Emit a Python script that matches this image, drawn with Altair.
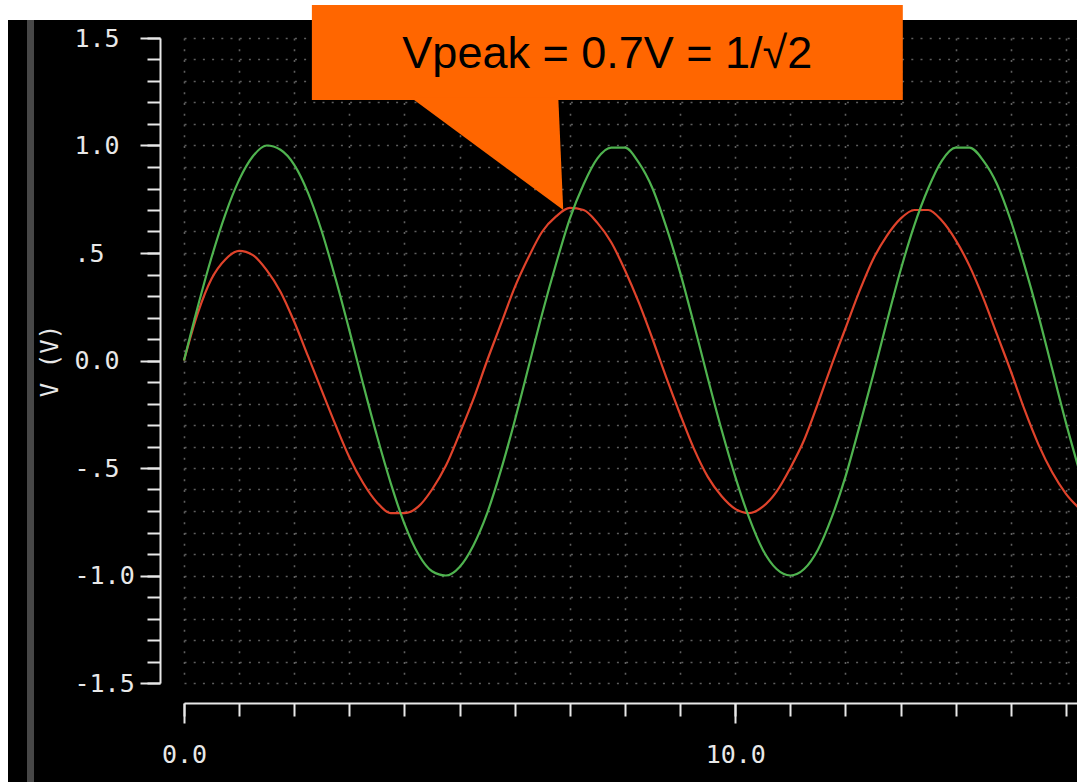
import altair as alt
import pandas as pd

# Sample times (s) and the two traces (V): source sine and RC high-pass output
t = [0.00, 0.25, 0.50, 0.75, 1.00, 1.25, 1.50, 1.75, 2.00, 2.25, 2.50, 2.75,
     3.00, 3.25, 3.50, 3.75, 4.00, 4.25, 4.50, 4.75, 5.00, 5.25, 5.50, 5.75,
     6.00, 6.25, 6.50, 6.75, 7.00, 7.25, 7.50, 7.75, 8.00, 8.25, 8.50, 8.75,
     9.00, 9.25, 9.50, 9.75, 10.00, 10.25, 10.50, 10.75, 11.00, 11.25, 11.50, 11.75,
     12.00, 12.25, 12.50, 12.75, 13.00, 13.25, 13.50, 13.75, 14.00, 14.25, 14.50, 14.75,
     15.00, 15.25, 15.50, 15.75, 16.00, 16.25]

v_in = [0.00, 0.25, 0.48, 0.68, 0.84, 0.95, 1.00, 0.98, 0.91, 0.78, 0.60, 0.38,
        0.14, -0.11, -0.35, -0.57, -0.76, -0.90, -0.98, -1.00, -0.96, -0.86, -0.71, -0.51,
        -0.28, -0.03, 0.22, 0.45, 0.66, 0.82, 0.94, 0.99, 0.99, 0.92, 0.80, 0.62,
        0.41, 0.17, -0.08, -0.32, -0.54, -0.73, -0.88, -0.97, -1.00, -0.97, -0.88, -0.73,
        -0.54, -0.31, -0.07, 0.18, 0.42, 0.63, 0.80, 0.93, 0.99, 0.99, 0.93, 0.82,
        0.65, 0.44, 0.21, -0.04, -0.29, -0.52]

v_out = [0.00, 0.22, 0.38, 0.47, 0.51, 0.49, 0.42, 0.32, 0.18, 0.02, -0.14, -0.30,
         -0.45, -0.57, -0.66, -0.71, -0.71, -0.68, -0.60, -0.49, -0.34, -0.18, 0.00, 0.17,
         0.34, 0.48, 0.60, 0.67, 0.71, 0.70, 0.64, 0.55, 0.42, 0.27, 0.10, -0.08,
         -0.25, -0.41, -0.54, -0.63, -0.69, -0.71, -0.68, -0.61, -0.50, -0.37, -0.20, -0.02,
         0.15, 0.32, 0.47, 0.58, 0.66, 0.70, 0.70, 0.65, 0.56, 0.44, 0.29, 0.12,
         -0.05, -0.23, -0.39, -0.52, -0.62, -0.69]

# Axis ticks and their labels
y_major = [-1.5, -1.0, -0.5, 0.0, 0.5, 1.0, 1.5]
y_major_labels = ["-1.5", "-1.0", "-.5", "0.0", "\u00a0.5", "1.0", "1.5"]
y_minor = [-1.5, -1.4, -1.3, -1.2, -1.1, -1.0, -0.9, -0.8, -0.7, -0.6, -0.5,
           -0.4, -0.3, -0.2, -0.1, 0.0, 0.1, 0.2, 0.3, 0.4, 0.5, 0.6, 0.7,
           0.8, 0.9, 1.0, 1.1, 1.2, 1.3, 1.4, 1.5]
x_major = [0, 10]
x_major_labels = ["0.0", "10.0"]
x_minor = [0, 1, 2, 3, 4, 5, 6, 7, 8, 9, 10, 11, 12, 13, 14, 15, 16]

# Callout pointing at the output peak
callout_text = "Vpeak = 0.7V = 1/\u221a2"
v_peak = 0.7
t_peak = 6.88
box_t = [2.32, 13.04]
box_v = [1.212, 1.653]
pointer_base_t = [4.12, 6.79]
text_v = 1.36

W, H = 893, 645
PAD_L, PAD_T, PAD_R, PAD_B = 184, 38, 0, 99

FG = "#e8e8e8"
GRID = "#5e5e5e"
MONO = "DejaVu Sans Mono"


def label_expr(values, labels):
    parts = [f"datum.value == {v} ? '{s}'" for v, s in zip(values, labels)]
    return " : ".join(parts) + " : ''"


xs = alt.Scale(domain=[0, 16.2], nice=False, zero=False)
ys = alt.Scale(domain=[-1.5, 1.5], nice=False, zero=False)

df = pd.DataFrame({"t": t, "vin": v_in, "vout": v_out})
blank = alt.Data(values=[{}])

# White margin strips and the grey bar of the scope window
top_strip = alt.Chart(blank).mark_rect(color="white").encode(
    x=alt.value(-PAD_L), x2=alt.value(W), y=alt.value(-PAD_T), y2=alt.value(-18))
left_strip = alt.Chart(blank).mark_rect(color="white").encode(
    x=alt.value(-PAD_L), x2=alt.value(-176), y=alt.value(-PAD_T), y2=alt.value(H + PAD_B))
side_bar = alt.Chart(blank).mark_rect(color="#474747").encode(
    x=alt.value(-157), x2=alt.value(-150), y=alt.value(-18), y2=alt.value(H + PAD_B))

# Dotted grid (invisible carrier line)
grid_layer = alt.Chart(df).mark_line(strokeOpacity=0).encode(
    x=alt.X("t:Q", scale=xs, axis=alt.Axis(
        orient="bottom", values=x_minor, grid=True, ticks=False, labels=False,
        domain=False, title=None, gridColor=GRID, gridWidth=1.6, gridDash=[2, 8.75])),
    y=alt.Y("vin:Q", scale=ys, axis=alt.Axis(
        orient="left", values=y_minor, grid=True, ticks=False, labels=False,
        domain=False, title=None, gridColor=GRID, gridWidth=1.6, gridDash=[2, 7.2])),
)

# Output trace with the labelled major axes
red_layer = alt.Chart(df).mark_line(color="#e0432b", strokeWidth=2.2, interpolate="monotone").encode(
    x=alt.X("t:Q", scale=xs, axis=alt.Axis(
        orient="bottom", values=x_major, offset=20, tickSize=20, grid=False,
        labelExpr=label_expr(x_major, x_major_labels), labelPadding=19,
        labelFlush=False, labelOverlap=False, title=None)),
    y=alt.Y("vout:Q", scale=ys, axis=alt.Axis(
        orient="left", values=y_major, offset=24, tickSize=20, grid=False,
        labelExpr=label_expr(y_major, y_major_labels), labelAlign="left",
        labelPadding=66, labelFlush=False, labelOverlap=False,
        title="V (V)", titlePadding=12)),
)

# Source trace with the minor tick axes
green_layer = alt.Chart(df).mark_line(color="#4fb34f", strokeWidth=2.2, interpolate="monotone").encode(
    x=alt.X("t:Q", scale=xs, axis=alt.Axis(
        orient="bottom", values=x_minor, offset=20, tickSize=13, grid=False,
        labels=False, domain=False, title=None)),
    y=alt.Y("vin:Q", scale=ys, axis=alt.Axis(
        orient="left", values=y_minor, offset=24, tickSize=13, grid=False,
        labels=False, domain=False, title=None)),
)

# Callout box, pointer and text
box_df = pd.DataFrame({"t0": [box_t[0]], "t1": [box_t[1]], "v0": [box_v[0]], "v1": [box_v[1]]})
box = alt.Chart(box_df).mark_rect(color="#ff6600").encode(
    x=alt.X("t0:Q", scale=xs, axis=None), x2="t1",
    y=alt.Y("v0:Q", scale=ys, axis=None), y2="v1")

pointer_df = pd.DataFrame({
    "v": [box_v[0] + 0.01, v_peak],
    "tl": [pointer_base_t[0], t_peak],
    "tr": [pointer_base_t[1], t_peak],
})
pointer = alt.Chart(pointer_df).mark_area(orient="horizontal", color="#ff6600").encode(
    y=alt.Y("v:Q", scale=ys, axis=None),
    x=alt.X("tl:Q", scale=xs, axis=None), x2="tr")

text_df = pd.DataFrame({"t": [(box_t[0] + box_t[1]) / 2], "v": [text_v]})
text = alt.Chart(text_df).mark_text(
    text=callout_text, font="Liberation Sans", fontSize=45, color="black",
    align="center", baseline="alphabetic").encode(
    x=alt.X("t:Q", scale=xs, axis=None),
    y=alt.Y("v:Q", scale=ys, axis=None))

chart = alt.layer(
    top_strip, left_strip, side_bar, grid_layer, red_layer, green_layer, box, pointer, text
).resolve_axis(
    x="independent", y="independent"
).properties(
    width=W, height=H,
    autosize=alt.AutoSizeParams(type="none"),
    padding={"left": PAD_L, "top": PAD_T, "right": PAD_R, "bottom": PAD_B},
    background="black",
).configure_view(
    stroke=None
).configure_axis(
    labelFont=MONO, labelFontSize=25, labelColor=FG,
    titleFont=MONO, titleFontSize=24, titleColor=FG, titleFontWeight="normal",
    tickColor=FG, tickWidth=2, domainColor=FG, domainWidth=2,
)

chart.save("out.html", embed_options={"renderer": "svg", "actions": False})
